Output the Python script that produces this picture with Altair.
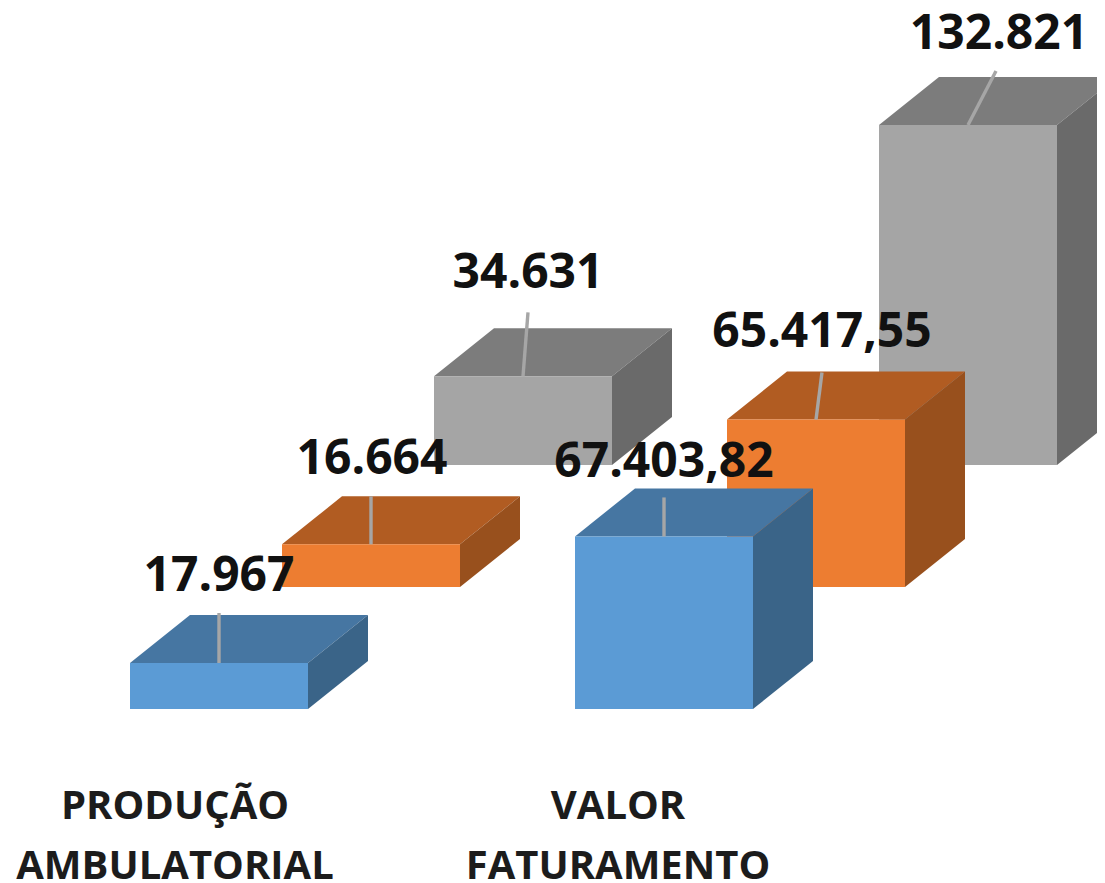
import altair as alt
import pandas as pd

categories = ["PRODUÇÃO AMBULATORIAL", "VALOR FATURAMENTO"]
category_lines = [["PRODUÇÃO", "AMBULATORIAL"], ["VALOR", "FATURAMENTO"]]
series_names = ["Blue", "Orange", "Grey"]
values_blue = [17967, 67403.82]
values_orange = [16664, 65417.55]
values_grey = [34631, 132821]
labels_blue = ["17.967", "67.403,82"]
labels_orange = ["16.664", "65.417,55"]
labels_grey = ["34.631", "132.821"]

# Projection and layout (pixels), separate from the data
W, H = 1089, 875
PX_PER_VALUE = 0.00256
BAR_W = 178.0
ORIGIN_X, ORIGIN_Y = 122.0, 701.0      # front-left-bottom of first bar, plot coordinates
CAT_STEP = 445.0
SERIES_STEP = (152.0, -122.0)
DEPTH = (60.0, -48.0)
LABEL_SIZE = 48
CAT_SIZE = 40

front = ["#5b9bd5", "#ed7d31", "#a5a5a5"]
top = ["#4676a2", "#b15c22", "#7c7c7c"]
side = ["#3a6488", "#98501d", "#6a6a6a"]

# leader line ends relative to the front-top centre (px), label centre relative to the leader end
leaders = {
    (0, 0): (0, -50, 0, -36), (1, 0): (0, -39, 0, -34),
    (0, 1): (0, -48, 1, -36), (1, 1): (6, -47, 0, -40),
    (0, 2): (5, -64, 0, -38), (1, 2): (28, -54, 3, -36),
}
cat_centres = [167, 610]
line_y = [799, 859]


def vx(px):
    return px / BAR_W


def vy(py):
    return (H - py) / PX_PER_VALUE


series_values = [values_blue, values_orange, values_grey]
series_labels = [labels_blue, labels_orange, labels_grey]

faces, rules, texts = [], [], []
for s, vals in enumerate(series_values):
    for c, v in enumerate(vals):
        x0 = ORIGIN_X + c * CAT_STEP + s * SERIES_STEP[0]
        base = ORIGIN_Y + s * SERIES_STEP[1]
        x1 = x0 + BAR_W
        yt = base - v * PX_PER_VALUE
        dx, dy = DEPTH
        key = f"{s}-{c}"

        def add(face, color, pts):
            for px, lo, hi in pts:
                faces.append(dict(series=s, face=face, bar=key, color=color,
                                  x=vx(px), y=vy(lo), y2=vy(hi)))

        add("top", top[s], [(x0, yt, yt), (x0 + dx, yt, yt + dy), (x1, yt, yt + dy), (x1 + dx, yt + dy, yt + dy)])
        add("side", side[s], [(x1, base, yt), (x1 + dx, base + dy, yt + dy)])
        add("front", front[s], [(x0, base, yt), (x1, base, yt)])

        cx = x0 + BAR_W / 2
        lx, ly, tx, ty = leaders[(c, s)]
        rules.append(dict(x=vx(cx), x2=vx(cx + lx), y=vy(yt), y2=vy(yt + ly)))
        texts.append(dict(x=vx(cx + lx + tx), y=vy(yt + ly + ty), t=series_labels[s][c]))

df = pd.DataFrame(faces)
X_SCALE = alt.Scale(domain=[0, vx(W)], nice=False, zero=False)
Y_SCALE = alt.Scale(domain=[0, vy(0)], nice=False, zero=False)
X = alt.X("x:Q", scale=X_SCALE, axis=None)
Y = alt.Y("y:Q", scale=Y_SCALE, axis=None)

layers = []
for s in [2, 1, 0]:
    for face in ["top", "side", "front"]:
        sub = df[(df.series == s) & (df.face == face)]
        layers.append(
            alt.Chart(sub).mark_area(interpolate="linear").encode(
                x=X, y=Y, y2="y2:Q",
                detail="bar:N",
                color=alt.Color("color:N", scale=None),
            )
        )

layers.append(
    alt.Chart(pd.DataFrame(rules)).mark_rule(color="#a6a6a6", strokeWidth=3.4).encode(
        x=X, x2="x2:Q", y=Y, y2="y2:Q"
    )
)
layers.append(
    alt.Chart(pd.DataFrame(texts)).mark_text(
        font="Open Sans", fontWeight="bold", fontSize=LABEL_SIZE, color="#111111",
        align="center", baseline="middle",
    ).encode(x=X, y=Y, text="t:N")
)

cat_rows = []
for c, lines in enumerate(category_lines):
    for i, line in enumerate(lines):
        cat_rows.append(dict(x=vx(cat_centres[c]), y=vy(line_y[i]), t=line))
layers.append(
    alt.Chart(pd.DataFrame(cat_rows)).mark_text(
        font="Open Sans", fontWeight="bold", fontSize=CAT_SIZE, color="#1c1c1c",
        align="center", baseline="middle",
    ).encode(x=X, y=Y, text="t:N")
)

chart = alt.layer(*layers).properties(
    width=W, height=H, padding=0, autosize=alt.AutoSizeParams(type="none"), background="white"
).configure_view(stroke=None)

chart.save("out.html", embed_options={"renderer": "svg", "actions": False})
